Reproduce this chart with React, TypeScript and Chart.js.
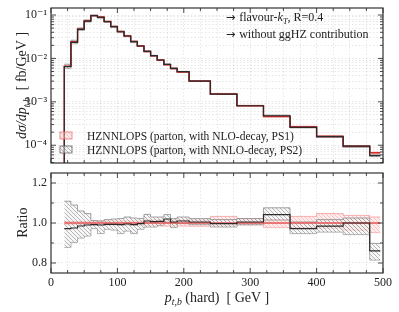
import React, { useEffect, useRef } from "react";
import { Chart, registerables } from "chart.js";
Chart.register(...registerables);

// ---------------- data ----------------
const binEdges = [20, 30, 40, 50, 60, 70, 80, 90, 100, 110, 120, 130, 140, 150, 160, 170, 180, 190, 208, 240, 280, 320, 360, 400, 440, 480, 496];
const ps1Values = [0.00663, 0.0241, 0.0476, 0.0734, 0.0972, 0.0894, 0.0706, 0.0541, 0.0415, 0.033, 0.0245, 0.0194, 0.01446, 0.01146, 0.00912, 0.00718, 0.00585, 0.00489, 0.003, 0.00151, 0.000809, 0.000459, 0.000265, 0.00016, 0.000095, 0.000067];
const ps2Ratio = [0.972, 0.975, 0.985, 0.99, 0.992, 0.99, 0.993, 0.993, 0.992, 0.995, 0.992, 0.997, 1.01, 1.007, 1.008, 1.02, 1.005, 1.01, 1.005, 0.997, 1.005, 1.042, 0.972, 0.984, 1.0, 0.861];
const ps2BandHi = [1.109, 1.09, 1.06, 1.047, 1.012, 1.01, 1.017, 1.02, 1.022, 1.03, 1.025, 1.022, 1.043, 1.03, 1.03, 1.042, 1.022, 1.03, 1.022, 1.017, 1.022, 1.076, 1.005, 1.017, 1.025, 0.898];
const ps2BandLo = [0.878, 0.903, 0.925, 0.935, 0.972, 0.947, 0.969, 0.965, 0.947, 0.96, 0.947, 0.969, 0.98, 0.98, 0.989, 1.005, 0.977, 0.997, 0.992, 0.98, 0.992, 1.015, 0.947, 0.955, 0.942, 0.815];
const ps1BandHi = [1.008, 1.008, 1.008, 1.008, 1.01, 1.01, 1.01, 1.01, 1.01, 1.01, 1.01, 1.01, 1.015, 1.015, 1.015, 1.015, 1.015, 1.015, 1.015, 1.033, 1.022, 1.017, 1.033, 1.047, 1.038, 1.03];
const ps1BandLo = [0.992, 0.992, 0.992, 0.992, 0.99, 0.99, 0.99, 0.99, 0.99, 0.99, 0.99, 0.99, 0.985, 0.985, 0.985, 0.985, 0.985, 0.985, 0.984, 0.984, 0.99, 0.977, 0.977, 0.975, 0.964, 0.952];

const xTickValues = [0, 25, 50, 75, 100, 125, 150, 175, 200, 225, 250, 275, 300, 325, 350, 375, 400, 425, 450, 475, 500];
const xLabelValues = [0, 100, 200, 300, 400, 500];
const xTickLabels = ["0", "100", "200", "300", "400", "500"];
const logDecades = [1e-4, 1e-3, 1e-2, 1e-1];
const logDecadeLabels = ["10⁻⁴", "10⁻³", "10⁻²", "10⁻¹"];
const ratioTickValues = [0.8, 0.9, 1.0, 1.1, 1.2];
const ratioLabelValues = [0.8, 1.0, 1.2];
const ratioTickLabels = ["0.8", "1.0", "1.2"];
const legendLabels = ["HZNNLOPS (parton, with NLO-decay, PS1)", "HZNNLOPS (parton, with NNLO-decay, PS2)"];

const Y_MIN = 3.9e-5;
const Y_MAX = 0.145;
const R_MIN = 0.75;
const R_MAX = 1.25;

// ---------------- style ----------------
const FONT = '"Liberation Serif", "DejaVu Serif", serif';
const ARROW_FONT = '"DejaVu Sans", sans-serif';
const RED = "rgb(205,45,45)";
const RED_RATIO = "rgb(228,85,85)";
const BLACK = "#2a2a2a";
const GRID = "rgba(0,0,0,0.12)";

type Run = { t: string; it?: boolean; sub?: boolean; f?: string; s?: number };

function drawRuns(ctx: CanvasRenderingContext2D, runs: Run[], size: number, x: number, y: number, align: "left" | "center", rot = 0) {
  ctx.save();
  ctx.translate(x, y);
  ctx.rotate(rot);
  ctx.textAlign = "left";
  ctx.textBaseline = "alphabetic";
  ctx.fillStyle = "#222";
  const fontFor = (r: Run) => `${r.it ? "italic " : ""}${(r.sub ? size * 0.7 : size) * (r.s || 1)}px ${r.f || FONT}`;
  let total = 0;
  const widths = runs.map((r) => {
    ctx.font = fontFor(r);
    const w = ctx.measureText(r.t).width;
    total += w;
    return w;
  });
  let cx = align === "center" ? -total / 2 : 0;
  runs.forEach((r, i) => {
    ctx.font = fontFor(r);
    ctx.fillText(r.t, cx, r.sub ? size * 0.25 : 0);
    cx += widths[i];
  });
  ctx.restore();
}

function makeHatch(bg: string, fg: string, size: number, lw: number) {
  const c = document.createElement("canvas");
  c.width = size;
  c.height = size;
  const g = c.getContext("2d")!;
  g.fillStyle = bg;
  g.fillRect(0, 0, size, size);
  g.strokeStyle = fg;
  g.lineWidth = lw;
  g.beginPath();
  g.moveTo(-1, -1);
  g.lineTo(size + 1, size + 1);
  g.moveTo(-1, size - 1);
  g.lineTo(1, size + 1);
  g.moveTo(size - 1, -1);
  g.lineTo(size + 1, 1);
  g.stroke();
  return g.createPattern(c, "repeat")!;
}

function stepPoints(vals: number[], drop?: number) {
  const pts: { x: number; y: number }[] = [];
  if (drop !== undefined) pts.push({ x: binEdges[0], y: drop });
  vals.forEach((v, i) => pts.push({ x: binEdges[i], y: v }));
  pts.push({ x: binEdges[binEdges.length - 1], y: vals[vals.length - 1] });
  return pts;
}

function lineDs(data: any[], color: string, width: number) {
  return { data, borderColor: color, borderWidth: width, pointRadius: 0, stepped: "before", fill: false, tension: 0 };
}

function bandDs(upper: any[], lower: any[], pattern: CanvasPattern, border: string) {
  return [
    { data: upper, borderColor: border, borderWidth: 0.8, pointRadius: 0, stepped: "before", fill: "+1", backgroundColor: pattern },
    { data: lower, borderColor: border, borderWidth: 0.8, pointRadius: 0, stepped: "before", fill: false },
  ];
}

const isDecade = (v: number) => Math.abs(Math.log10(v) - Math.round(Math.log10(v))) < 1e-6;
const near = (a: number, b: number) => Math.abs(a - b) < 1e-6;

function framePlugin(isMajorX: (v: number) => boolean, isMajorY: (v: number) => boolean) {
  return {
    id: "frameTicks",
    afterDraw(chart: any) {
      const { ctx, chartArea: a } = chart;
      const xs = chart.scales.x;
      const ys = chart.scales.y;
      ctx.save();
      ctx.strokeStyle = "#333";
      ctx.lineWidth = 0.9;
      ctx.beginPath();
      xs.ticks.forEach((t: any) => {
        const px = xs.getPixelForValue(t.value);
        const len = isMajorX(t.value) ? 5 : 3;
        ctx.moveTo(px, a.bottom);
        ctx.lineTo(px, a.bottom - len);
        ctx.moveTo(px, a.top);
        ctx.lineTo(px, a.top + len);
      });
      ys.ticks.forEach((t: any) => {
        const py = ys.getPixelForValue(t.value);
        if (py < a.top || py > a.bottom) return;
        const len = isMajorY(t.value) ? 5 : 3;
        ctx.moveTo(a.left, py);
        ctx.lineTo(a.left + len, py);
        ctx.moveTo(a.right, py);
        ctx.lineTo(a.right - len, py);
      });
      ctx.stroke();
      ctx.lineWidth = 1.2;
      ctx.strokeRect(a.left, a.top, a.right - a.left, a.bottom - a.top);
      ctx.restore();
    },
  };
}

const gridOpts = { color: GRID, lineWidth: 0.8, drawTicks: false, borderDash: [1.5, 2] };
const borderOpts = { display: false, dash: [1.5, 2] };

export default function App() {
  const topRef = useRef<HTMLCanvasElement>(null);
  const botRef = useRef<HTMLCanvasElement>(null);

  useEffect(() => {
    const grayHatch = makeHatch("rgba(240,240,240,0.5)", "rgba(90,90,90,0.6)", 4, 0.7);
    const redHatch = makeHatch("rgba(255,215,215,0.45)", "rgba(238,125,125,0.55)", 4, 0.7);

    const logTicks: number[] = [];
    [1e-5, 1e-4, 1e-3, 1e-2, 1e-1].forEach((d) => {
      for (let m = 1; m <= 9; m++) {
        const v = m * d;
        if (v >= Y_MIN && v <= Y_MAX) logTicks.push(v);
      }
    });

    const ps2Values = ps1Values.map((v, i) => v * ps2Ratio[i]);
    const topGrayHi = ps1Values.map((v, i) => v * ps2BandHi[i]);
    const topGrayLo = ps1Values.map((v, i) => v * ps2BandLo[i]);
    const topRedHi = ps1Values.map((v, i) => v * ps1BandHi[i]);
    const topRedLo = ps1Values.map((v, i) => v * ps1BandLo[i]);

    const xScale = (showLabels: boolean, height: number) => ({
      type: "linear",
      min: 0,
      max: 500,
      afterBuildTicks: (s: any) => {
        s.ticks = xTickValues.map((v) => ({ value: v }));
      },
      afterFit: (s: any) => {
        s.height = height;
        s.paddingLeft = 0;
        s.paddingRight = 0;
      },
      ticks: {
        display: showLabels,
        autoSkip: false,
        maxRotation: 0,
        padding: 3,
        color: "#222",
        font: { family: FONT, size: 12 },
        callback: (v: any) => {
          const i = xLabelValues.indexOf(Number(v));
          return i >= 0 ? xTickLabels[i] : "";
        },
      },
      grid: gridOpts,
      border: borderOpts,
    });

    const topPlugin = {
      id: "topText",
      afterDraw(chart: any) {
        const ctx = chart.ctx as CanvasRenderingContext2D;
        drawRuns(ctx, [{ t: "dσ/dp", it: true }, { t: "t,b", it: true, sub: true }, { t: "  [ fb/GeV ]" }], 14, 26, 85.5, "center", -Math.PI / 2);
        drawRuns(ctx, [{ t: "→ ", f: ARROW_FONT, s: 0.95 }, { t: "flavour-" }, { t: "k", it: true }, { t: "T", it: true, sub: true }, { t: ", R=0.4" }], 12, 226, 21, "left");
        drawRuns(ctx, [{ t: "→ ", f: ARROW_FONT, s: 0.95 }, { t: "without ggHZ contribution" }], 12, 226, 38, "left");
        // legend
        const entries = [
          { pat: redHatch, border: "rgba(235,110,110,0.95)", y: 132 },
          { pat: grayHatch, border: "#666", y: 146 },
        ];
        entries.forEach((e, i) => {
          ctx.save();
          ctx.fillStyle = e.pat;
          ctx.fillRect(60, e.y, 12, 7);
          ctx.strokeStyle = e.border;
          ctx.lineWidth = 0.8;
          ctx.strokeRect(60, e.y, 12, 7);
          ctx.restore();
          drawRuns(ctx, [{ t: legendLabels[i] }], 11.5, 87, e.y + 7.5, "left");
        });
      },
    };

    const top = new Chart(topRef.current!, {
      type: "line",
      data: {
        datasets: [
          lineDs(stepPoints(ps2Values, 1e-9), BLACK, 1.2),
          lineDs(stepPoints(ps1Values, 1e-9), RED, 1.5),
          ...bandDs(stepPoints(topGrayHi), stepPoints(topGrayLo), grayHatch, "#8a8a8a"),
          ...bandDs(stepPoints(topRedHi), stepPoints(topRedLo), redHatch, "rgba(240,130,130,0.9)"),
        ] as any,
      },
      options: {
        responsive: false,
        animation: false,
        devicePixelRatio: 1,
        layout: { padding: { left: 0, right: 16, top: 8, bottom: 5 } },
        plugins: { legend: { display: false }, tooltip: { enabled: false } },
        scales: {
          x: xScale(false, 0) as any,
          y: {
            type: "logarithmic",
            min: Y_MIN,
            max: Y_MAX,
            afterBuildTicks: (s: any) => {
              s.ticks = logTicks.map((v) => ({ value: v }));
            },
            afterFit: (s: any) => {
              s.width = 51;
              s.paddingTop = 0;
              s.paddingBottom = 0;
            },
            ticks: {
              autoSkip: false,
              padding: 4,
              color: "#222",
              font: { family: FONT, size: 12 },
              callback: (v: any) => {
                const val = Number(v);
                if (!isDecade(val)) return "";
                const i = logDecades.findIndex((d) => Math.abs(Math.log10(d) - Math.log10(val)) < 1e-6);
                return i >= 0 ? logDecadeLabels[i] : "";
              },
            },
            grid: gridOpts,
            border: borderOpts,
          } as any,
        },
      },
      plugins: [framePlugin((v) => v % 100 === 0, (v) => isDecade(v)), topPlugin],
    } as any);

    const botPlugin = {
      id: "botText",
      afterDraw(chart: any) {
        const ctx = chart.ctx as CanvasRenderingContext2D;
        drawRuns(ctx, [{ t: "Ratio" }], 14, 27, 54.7, "center", -Math.PI / 2);
        drawRuns(ctx, [{ t: "p", it: true }, { t: "t,b", it: true, sub: true }, { t: " (hard)  [ GeV ]" }], 14, 217, 133.5, "center");
      },
    };

    const bot = new Chart(botRef.current!, {
      type: "line",
      data: {
        datasets: [
          lineDs(stepPoints(ps2Ratio), BLACK, 1.2),
          lineDs(stepPoints(ps1Values.map(() => 1)), RED_RATIO, 1.7),
          ...bandDs(stepPoints(ps2BandHi), stepPoints(ps2BandLo), grayHatch, "#8a8a8a"),
          ...bandDs(stepPoints(ps1BandHi), stepPoints(ps1BandLo), redHatch, "rgba(240,140,140,0.85)"),
        ] as any,
      },
      options: {
        responsive: false,
        animation: false,
        devicePixelRatio: 1,
        layout: { padding: { left: 0, right: 16, top: 5, bottom: 0 } },
        plugins: { legend: { display: false }, tooltip: { enabled: false } },
        scales: {
          x: xScale(true, 39) as any,
          y: {
            type: "linear",
            min: R_MIN,
            max: R_MAX,
            afterBuildTicks: (s: any) => {
              s.ticks = ratioTickValues.map((v) => ({ value: v }));
            },
            afterFit: (s: any) => {
              s.width = 51;
              s.paddingTop = 0;
              s.paddingBottom = 0;
            },
            ticks: {
              autoSkip: false,
              padding: 4,
              color: "#222",
              font: { family: FONT, size: 12 },
              callback: (v: any) => {
                const i = ratioLabelValues.findIndex((r) => near(r, Number(v)));
                return i >= 0 ? ratioTickLabels[i] : "";
              },
            },
            grid: gridOpts,
            border: borderOpts,
          } as any,
        },
      },
      plugins: [framePlugin((v) => v % 100 === 0, (v) => ratioLabelValues.some((r) => near(r, v))), botPlugin],
    } as any);

    return () => {
      top.destroy();
      bot.destroy();
    };
  }, []);

  return (
    <div style={{ position: "absolute", left: 0, top: 0, width: 399, height: 312, background: "#fff" }}>
      <canvas ref={topRef} width={399} height={168} style={{ position: "absolute", left: 0, top: 0 }} />
      <canvas ref={botRef} width={399} height={144} style={{ position: "absolute", left: 0, top: 168 }} />
    </div>
  );
}
